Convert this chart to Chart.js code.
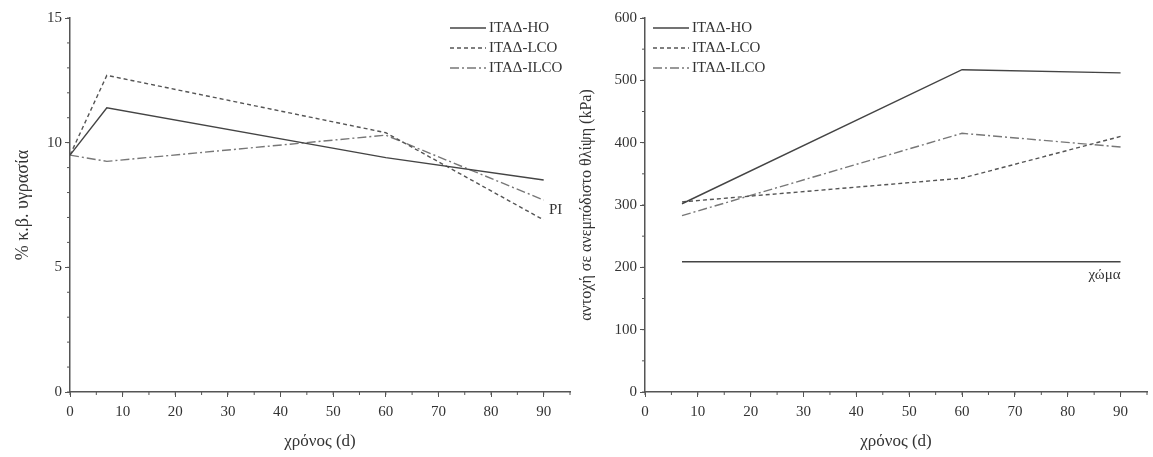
<!DOCTYPE html>
<html>
<head>
<meta charset="utf-8">
<script src="https://cdn.jsdelivr.net/npm/chart.js@4/dist/chart.umd.min.js"></script>
<style>
  html, body { margin: 0; padding: 0; background: #fff; }
  #wrap { position: relative; width: 1153px; height: 457px; }
  canvas { position: absolute; top: 0; }
  #left { left: 0; }
  #right { left: 576px; }
</style>
</head>
<body>
<div id="wrap">
  <canvas id="left" width="576" height="457"></canvas>
  <canvas id="right" width="577" height="457"></canvas>
</div>
<script>
// left chart: moisture
const daysLeft = [0, 7, 60, 90];
const moistHO = [9.5, 11.4, 9.4, 8.5];
const moistLCO = [9.5, 12.7, 10.4, 6.9];
const moistILCO = [9.5, 9.25, 10.3, 7.7];

// right chart: unconfined compressive strength
const daysRight = [7, 60, 90];
const ucsHO = [302, 517, 512];
const ucsLCO = [305, 343, 410];
const ucsILCO = [283, 415, 393];
const soilDays = [7, 90];
const soilUCS = [209, 209];

const seriesNames = ['ITAΔ-HO', 'ITAΔ-LCO', 'ITAΔ-ILCO'];
const serif = 'Liberation Serif, Times New Roman, serif';

function pts(xs, ys) {
  return xs.map((x, i) => ({ x: x, y: ys[i] }));
}

const styles = [
  { borderColor: '#444', borderDash: [] },
  { borderColor: '#555', borderDash: [4, 3] },
  { borderColor: '#777', borderDash: [9, 3, 2, 3] }
];

function makeSets(xs, arrs) {
  return arrs.map((a, i) => ({
    label: seriesNames[i],
    data: pts(xs, a),
    borderColor: styles[i].borderColor,
    borderDash: styles[i].borderDash,
    borderWidth: 1.4,
    pointRadius: 0,
    tension: 0,
    fill: false
  }));
}

// minor ticks, legend and text notes
const extras = {
  id: 'extras',
  afterDraw(chart, args, opts) {
    const ctx = chart.ctx;
    const xs = chart.scales.x, ys = chart.scales.y;
    ctx.save();
    ctx.strokeStyle = '#555';
    ctx.lineWidth = 1;
    ctx.beginPath();
    for (let v = xs.min; v <= xs.max; v += opts.xMinor) {
      const px = xs.getPixelForValue(v);
      ctx.moveTo(px, ys.bottom);
      ctx.lineTo(px, ys.bottom + 3);
    }
    for (let v = ys.min; v <= ys.max; v += opts.yMinor) {
      const py = ys.getPixelForValue(v);
      ctx.moveTo(xs.left, py);
      ctx.lineTo(xs.left - 3, py);
    }
    ctx.stroke();

    // legend
    ctx.font = '15px ' + serif;
    ctx.fillStyle = '#333';
    ctx.textBaseline = 'middle';
    ctx.textAlign = 'left';
    chart.data.datasets.forEach((ds, i) => {
      if (!ds.label) return;
      const y = opts.legendY + i * 20;
      ctx.strokeStyle = ds.borderColor;
      ctx.lineWidth = ds.borderWidth;
      ctx.setLineDash(ds.borderDash);
      ctx.beginPath();
      ctx.moveTo(opts.legendX, y);
      ctx.lineTo(opts.legendX + 36, y);
      ctx.stroke();
      ctx.setLineDash([]);
      ctx.fillText(ds.label, opts.legendX + 39, y);
    });

    // notes
    (opts.notes || []).forEach(n => {
      ctx.font = n.size + 'px ' + serif;
      ctx.textAlign = n.align;
      ctx.fillText(n.text, xs.getPixelForValue(n.x), ys.getPixelForValue(n.y));
    });
    ctx.restore();
  }
};

function axisOpts(min, max, step, width, title, titleSize, titlePad) {
  return {
    type: 'linear',
    min: min,
    max: max,
    afterFit: s => { s.width = width; },
    border: { display: true, color: '#555', width: 1.5 },
    grid: { drawOnChartArea: false, drawTicks: true, tickLength: 5, color: '#555', tickColor: '#555' },
    ticks: { stepSize: step, color: '#333', padding: 3, font: { family: serif, size: 15 } },
    title: { display: true, text: title, color: '#333', font: { family: serif, size: titleSize }, padding: { top: titlePad, bottom: 0 } }
  };
}

function xAxis() {
  return {
    type: 'linear',
    min: 0,
    max: 95,
    afterFit: s => { s.height = 65; },
    border: { display: true, color: '#555', width: 1.5 },
    grid: { drawOnChartArea: false, drawTicks: true, tickLength: 5, color: '#555', tickColor: '#555' },
    ticks: { stepSize: 10, includeBounds: false, maxRotation: 0, color: '#333', padding: 6, font: { family: serif, size: 15 } },
    title: { display: true, text: 'χρόνος (d)', color: '#333', font: { family: serif, size: 17 }, padding: { top: 0, bottom: 5 } }
  };
}

function baseOptions(padRight) {
  return {
    responsive: false,
    animation: false,
    devicePixelRatio: 1,
    layout: { padding: { top: 18, right: padRight, left: 0, bottom: 0 } },
    plugins: { legend: { display: false }, tooltip: { enabled: false } }
  };
}

const leftOptions = baseOptions(6);
leftOptions.scales = { x: xAxis(), y: axisOpts(0, 15, 5, 70, '% κ.β. υγρασία', 18, 12) };
leftOptions.plugins.extras = {
  xMinor: 5, yMinor: 1, legendX: 450, legendY: 28,
  notes: [{ text: 'PI', x: 91, y: 7.3, align: 'left', size: 15 }]
};

new Chart(document.getElementById('left'), {
  type: 'line',
  data: { datasets: makeSets(daysLeft, [moistHO, moistLCO, moistILCO]) },
  options: leftOptions,
  plugins: [extras]
});

const rightSets = makeSets(daysRight, [ucsHO, ucsLCO, ucsILCO]);
rightSets.push({
  label: '',
  data: pts(soilDays, soilUCS),
  borderColor: '#444',
  borderDash: [],
  borderWidth: 1.4,
  pointRadius: 0,
  fill: false
});

const rightOptions = baseOptions(6);
rightOptions.scales = { x: xAxis(), y: axisOpts(0, 600, 100, 69, 'αντοχή σε ανεμπόδιστο θλίψη (kPa)', 16, 1) };
rightOptions.plugins.extras = {
  xMinor: 5, yMinor: 50, legendX: 77, legendY: 28,
  notes: [{ text: 'χώμα', x: 90, y: 187, align: 'right', size: 15 }]
};

new Chart(document.getElementById('right'), {
  type: 'line',
  data: { datasets: rightSets },
  options: rightOptions,
  plugins: [extras]
});
</script>
</body>
</html>
